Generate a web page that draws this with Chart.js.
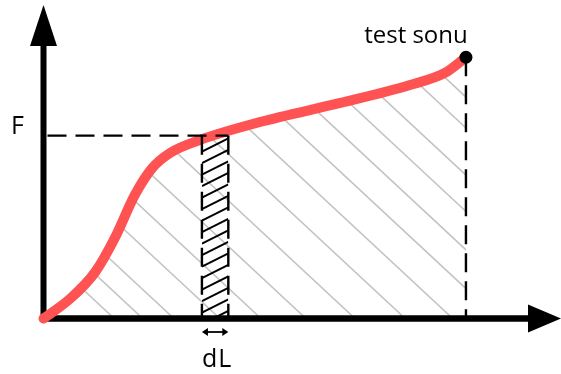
<!DOCTYPE html>
<html>
<head>
<meta charset="utf-8">
<script src="https://cdn.jsdelivr.net/npm/chart.js@4/dist/chart.umd.min.js"></script>
<style>
  html, body { margin: 0; padding: 0; background: #fff; }
  #wrap { width: 561px; height: 374px; position: relative; }
</style>
</head>
<body>
<div id="wrap"><canvas id="c"></canvas></div>
<script>
// Force–elongation curve of a tensile test (arbitrary units)
const elongation = [0, 5.0, 9.8, 13.5, 17.3, 20.6, 24.0, 29.6, 41.0, 56.2, 69.4, 76.0, 80.0];
const force      = [0, 7.5, 17.8, 30.8, 47.3, 57.6, 63.4, 68.3, 75.2, 82.5, 89.4, 94.0, 100.0];

// marked force level and the elongation element dL
const forceLevel = 70;
const stripFrom = 30;
const stripTo = 35;

// axis extents (arrow tips)
const axisMaxX = 98;
const axisMaxY = 120;

// texts
const forceLabel = 'F';
const endLabel = 'test sonu';
const stepLabel = 'dL';

const FONT = '"Open Sans", "DejaVu Sans", sans-serif';

const curvePoints = elongation.map((v, i) => ({ x: v, y: force[i] }));
const endPoint = [curvePoints[curvePoints.length - 1]];

function arrowHead(ctx, tipX, tipY, dirX, dirY, len, half) {
  const px = -dirY, py = dirX;
  ctx.beginPath();
  ctx.moveTo(tipX, tipY);
  ctx.lineTo(tipX - dirX * len + px * half, tipY - dirY * len + py * half);
  ctx.lineTo(tipX - dirX * len - px * half, tipY - dirY * len - py * half);
  ctx.closePath();
  ctx.fill();
}

const sketch = {
  id: 'sketch',
  beforeDatasetsDraw(chart, args, opts) {
    const { ctx, scales: { x, y } } = chart;
    const x0 = x.getPixelForValue(0);
    const y0 = y.getPixelForValue(0);
    const xEnd = x.getPixelForValue(endPoint[0].x);

    // light hatching of the work area under the curve
    ctx.save();
    ctx.beginPath();
    chart.getDatasetMeta(0).dataset.path(ctx);
    ctx.lineTo(xEnd, y0);
    ctx.lineTo(x0, y0);
    ctx.closePath();
    ctx.clip();
    ctx.strokeStyle = '#c3c3c3';
    ctx.lineWidth = 1.6;
    opts.hatch.forEach(v => {
      const bx = x.getPixelForValue(v);
      ctx.beginPath();
      ctx.moveTo(bx, y0);
      ctx.lineTo(bx - 600, y0 - 600 * opts.hatchSlope);
      ctx.stroke();
    });
    ctx.restore();

    // axes with arrow heads
    const yTip = y.getPixelForValue(axisMaxY);
    const xTip = x.getPixelForValue(axisMaxX);
    ctx.save();
    ctx.fillStyle = '#000';
    ctx.strokeStyle = '#000';
    ctx.lineWidth = 6;
    ctx.lineCap = 'butt';
    ctx.beginPath();
    ctx.moveTo(x0, y0 + 3.3);
    ctx.lineTo(x0, yTip + 38);
    ctx.stroke();
    ctx.lineWidth = 6.6;
    ctx.beginPath();
    ctx.moveTo(x0 - 3, y0);
    ctx.lineTo(xTip - 30, y0);
    ctx.stroke();
    arrowHead(ctx, x0, yTip, 0, -1, 41, 13.5);
    arrowHead(ctx, xTip, y0, 1, 0, 33, 14);
    ctx.restore();
  },
  afterDatasetsDraw(chart, args, opts) {
    const { ctx, scales: { x, y } } = chart;
    const x0 = x.getPixelForValue(0);
    const y0 = y.getPixelForValue(0);
    const yF = y.getPixelForValue(forceLevel);
    const s0 = x.getPixelForValue(stripFrom);
    const s1 = x.getPixelForValue(stripTo);
    const xEnd = x.getPixelForValue(endPoint[0].x);
    const yEnd = y.getPixelForValue(endPoint[0].y);

    ctx.save();
    // dense hatching of the dL strip
    ctx.save();
    ctx.beginPath();
    ctx.rect(s0, yF, s1 - s0, y0 - yF);
    ctx.clip();
    ctx.strokeStyle = '#000';
    ctx.lineWidth = 2;
    for (let yy = yF + 16; yy < y0 + 14; yy += opts.stripGap) {
      ctx.beginPath();
      ctx.moveTo(s0, yy);
      ctx.lineTo(s1, yy - (s1 - s0) * opts.stripSlope);
      ctx.stroke();
    }
    ctx.restore();

    // dashed guide lines
    ctx.strokeStyle = '#000';
    ctx.lineWidth = 2.4;
    ctx.setLineDash([19, 9]);
    ctx.beginPath();
    ctx.moveTo(x0 + 4, yF);
    ctx.lineTo(s1, yF);
    ctx.stroke();
    ctx.beginPath();
    ctx.moveTo(s0, yF);
    ctx.lineTo(s0, y0);
    ctx.stroke();
    ctx.beginPath();
    ctx.moveTo(s1, yF);
    ctx.lineTo(s1, y0);
    ctx.stroke();
    ctx.beginPath();
    ctx.moveTo(xEnd, yEnd);
    ctx.lineTo(xEnd, y0);
    ctx.stroke();
    ctx.setLineDash([]);

    // end point marker on top
    ctx.fillStyle = '#000';
    ctx.beginPath();
    ctx.arc(xEnd, yEnd, 6.5, 0, Math.PI * 2);
    ctx.fill();

    // dL double arrow
    const ya = y0 + 13.5;
    ctx.lineWidth = 1.8;
    ctx.beginPath();
    ctx.moveTo(s0 + 3, ya);
    ctx.lineTo(s1 - 3, ya);
    ctx.stroke();
    arrowHead(ctx, s0, ya, -1, 0, 6, 4);
    arrowHead(ctx, s1, ya, 1, 0, 6, 4);

    // labels
    ctx.fillStyle = '#000';
    ctx.textBaseline = 'alphabetic';
    ctx.textAlign = 'center';
    ctx.font = '25px ' + FONT;
    ctx.fillText(forceLabel, x0 - 26, yF - 2);
    ctx.font = '24px ' + FONT;
    ctx.fillText(endLabel, xEnd - 50, yEnd - 14);
    ctx.font = '25px ' + FONT;
    ctx.letterSpacing = '1px';
    ctx.fillText(stepLabel, (s0 + s1) / 2 + 2, y0 + 48.5);
    ctx.letterSpacing = '0px';
    ctx.restore();
  }
};

new Chart(document.getElementById('c'), {
  type: 'line',
  data: {
    datasets: [
      {
        data: curvePoints,
        borderColor: '#ff5252',
        borderWidth: 10,
        borderCapStyle: 'round',
        borderJoinStyle: 'round',
        cubicInterpolationMode: 'monotone',
        pointRadius: 0,
        fill: false,
        clip: false
      }
    ]
  },
  options: {
    responsive: true,
    maintainAspectRatio: false,
    animation: false,
    events: [],
    layout: { padding: { left: 43.5, right: 0, top: 5, bottom: 55.5 } },
    scales: {
      x: { type: 'linear', min: 0, max: axisMaxX, display: false },
      y: { type: 'linear', min: 0, max: axisMaxY, display: false }
    },
    plugins: {
      legend: { display: false },
      tooltip: { enabled: false },
      sketch: {
        hatch: [13.4, 18.8, 24.7, 33.4, 41.2, 49.7, 59.0, 68.5, 77.5, 86.1, 94.0, 101.8, 109.2, 118.8, 125.1],
        hatchSlope: 0.93,
        stripGap: 11.5,
        stripSlope: 0.5
      }
    }
  },
  plugins: [sketch]
});
</script>
</body>
</html>
